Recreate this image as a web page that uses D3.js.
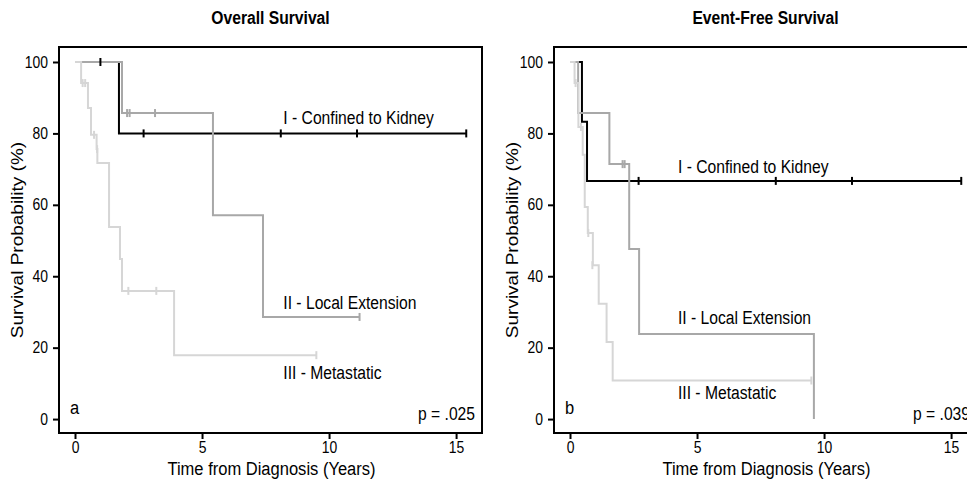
<!DOCTYPE html>
<html><head><meta charset="utf-8">
<script src="https://cdn.jsdelivr.net/npm/d3@7"></script>
<style>
body{margin:0;background:#fff}
text{font-family:"Liberation Sans",Arial,Helvetica,sans-serif;fill:#000}
</style>
</head><body>
<svg id="c" width="967" height="483"></svg>
<script>
// ---------- data ----------
const groupNames = ["I - Confined to Kidney", "II - Local Extension", "III - Metastatic"];
const xTicks = [0, 5, 10, 15];
const yTicks = [0, 20, 40, 60, 80, 100];
const panelTitles = ["Overall Survival", "Event-Free Survival"];
const panelLetters = ["a", "b"];
const pValues = ["p = .025", "p = .039"];

// Overall survival: step points [years, survival %]
const osStage1 = [[0,100],[1.73,80],[15.4,80]];
const osStage2 = [[0,100],[1.85,85.7],[5.43,57.1],[7.4,28.6],[11.2,28.6]];
const osStage3 = [[0,100],[0.24,94.1],[0.51,87.1],[0.63,79.6],[0.85,75.6],[0.88,71.7],[1.34,53.8],[1.77,44.8],[1.85,35.9],[3.9,17.9],[9.5,17.9]];
// Overall survival censored observations
const osCens1 = [[1.0,100],[2.7,80],[8.1,80],[11.1,80],[15.4,80]];
const osCens2 = [[2.05,85.7],[2.15,85.7],[3.15,85.7],[11.2,28.6]];
const osCens3 = [[0.3,94.1],[0.4,94.1],[0.75,79.6],[0.87,75.6],[2.1,35.9],[3.2,35.9],[9.5,17.9]];

// Event-free survival
const efsStage1 = [[0,100],[0.47,83.3],[0.67,66.7],[15.4,66.7]];
const efsStage2 = [[0,100],[0.32,85.7],[1.55,71.4],[2.33,47.6],[2.72,23.8],[9.6,0]];
const efsStage3 = [[0,100],[0.18,94.1],[0.33,81.8],[0.5,74.0],[0.58,59.4],[0.7,52.1],[0.9,43.1],[1.13,32.3],[1.44,21.6],[1.68,10.8],[9.5,10.8]];
const efsCens1 = [[2.7,66.7],[8.1,66.7],[11.1,66.7],[15.4,66.7]];
const efsCens2 = [[2.07,71.4],[2.15,71.4]];
const efsCens3 = [[0.22,94.1],[0.43,81.8],[0.72,52.1],[0.88,43.1],[9.5,10.8]];

// label anchors [years, %]
const osLabelPos = [[8.2,82.5],[8.2,30.7],[8.2,11.3]];
const efsLabelPos = [[4.25,69.0],[4.25,26.5],[4.25,5.5]];

// ---------- drawing ----------
const K = 0.87;          // horizontal squeeze of type
const colors = ["#000000", "#a8a8a8", "#d6d6d6"];
const svg = d3.select("#c");

const panels = [
  {left: 59, curves: [osStage1, osStage2, osStage3], cens: [osCens1, osCens2, osCens3], lab: osLabelPos},
  {left: 554, curves: [efsStage1, efsStage2, efsStage3], cens: [efsCens1, efsCens2, efsCens3], lab: efsLabelPos}
];
const W = 423, TOP = 47, BOT = 433;

function sq(sel, x, y, extra) {
  sel.attr("transform", `translate(${x},${y}) scale(${K},1)` + (extra || ""));
}

panels.forEach((p, i) => {
  const x = d3.scaleLinear().domain([-0.63, 16.02]).range([p.left, p.left + W]);
  const y = d3.scaleLinear().domain([-3.9, 104.2]).range([BOT, TOP]);
  const g = svg.append("g");

  // axes
  const ya = g.append("g").attr("transform", `translate(${p.left},0)`)
    .call(d3.axisLeft(y).tickValues(yTicks).tickSize(6).tickPadding(5));
  const xa = g.append("g").attr("transform", `translate(0,${BOT})`)
    .call(d3.axisBottom(x).tickValues(xTicks).tickSize(6).tickPadding(3));
  [ya, xa].forEach(a => {
    a.select(".domain").remove();
    a.selectAll(".tick line").attr("stroke", "#000").attr("stroke-width", 2);
    a.selectAll(".tick text").attr("font-size", 16).attr("font-family", null)
      .attr("fill", "#000");
  });
  ya.selectAll(".tick text").each(function() {
    const t = d3.select(this);
    t.attr("transform", `translate(${-11},0) scale(${K},1)`).attr("x", 0);
  });
  xa.selectAll(".tick text").attr("transform", `scale(${K},1)`);

  // curves
  const line = d3.line().x(d => x(d[0])).y(d => y(d[1])).curve(d3.curveStepAfter);
  p.curves.forEach((c, j) => {
    g.append("path").datum(c).attr("d", line).attr("fill", "none")
      .attr("stroke", colors[j]).attr("stroke-width", 2);
  });
  p.cens.forEach((c, j) => {
    g.selectAll(null).data(c).enter().append("line")
      .attr("x1", d => x(d[0])).attr("x2", d => x(d[0]))
      .attr("y1", d => y(d[1]) - 4).attr("y2", d => y(d[1]) + 4)
      .attr("stroke", colors[j]).attr("stroke-width", 2);
  });

  // frame
  g.append("rect").attr("x", p.left).attr("y", TOP).attr("width", W).attr("height", BOT - TOP)
    .attr("fill", "none").attr("stroke", "#000").attr("stroke-width", 2);

  // group labels
  groupNames.forEach((n, j) => {
    g.append("text").text(n).attr("font-size", 18)
      .call(sq, x(p.lab[j][0]), y(p.lab[j][1]));
  });

  // letter + p value
  g.append("text").text(panelLetters[i]).attr("font-size", 19)
    .call(sq, p.left + 11, 414);
  g.append("text").text(pValues[i]).attr("font-size", 18).attr("text-anchor", "end")
    .call(sq, p.left + W - 7, 420);

  // title
  g.append("text").text(panelTitles[i]).attr("font-size", 18).attr("font-weight", "bold")
    .attr("text-anchor", "middle").call(sq, p.left + W / 2, 24);

  // axis titles
  g.append("text").text("Time from Diagnosis (Years)").attr("font-size", 19)
    .attr("text-anchor", "middle").call(sq, p.left + W / 2 + 1, 475);
  g.append("text").text("Survival Probability (%)").attr("font-size", 19)
    .attr("text-anchor", "middle")
    .attr("transform", `translate(${p.left - 36},240) scale(${K},1) rotate(-90)`);
});
</script>
</body></html>
